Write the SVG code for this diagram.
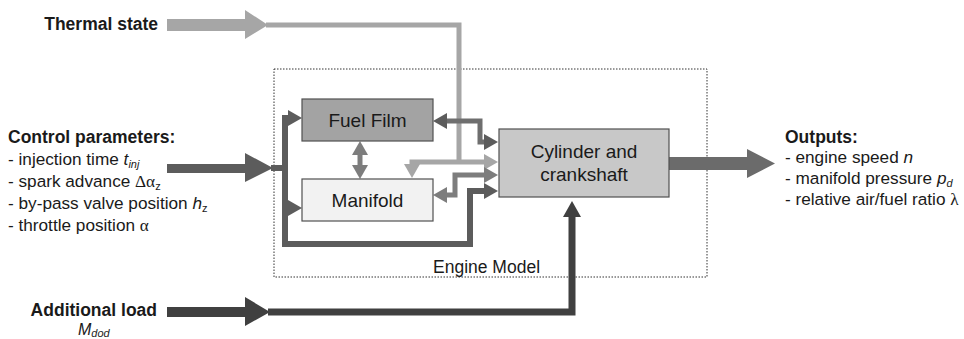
<svg xmlns="http://www.w3.org/2000/svg" width="964" height="339" viewBox="0 0 964 339">
<style>
text{font-family:"Liberation Sans",Arial,sans-serif;fill:#1a1a1a}
.b{font-weight:bold;font-size:17.5px}
.t{font-size:17.2px}
.n{font-size:19px}
.i{font-style:italic}
.g{font-family:"Liberation Serif","Times New Roman",serif}
.s{font-size:11px}
.box{stroke:#505050;stroke-width:1.2}
.ln{fill:none;stroke-linejoin:miter}
</style>
<defs>
<marker id="mL" markerUnits="userSpaceOnUse" markerWidth="16" markerHeight="16" refX="4" refY="8" orient="auto-start-reverse"><path d="M0,0 L14,8 L0,16 z" fill="#a6a6a6"/></marker>
<marker id="mM" markerUnits="userSpaceOnUse" markerWidth="16" markerHeight="16" refX="4" refY="8" orient="auto-start-reverse"><path d="M0,0 L14,8 L0,16 z" fill="#7d7d7d"/></marker>
<marker id="mD" markerUnits="userSpaceOnUse" markerWidth="16" markerHeight="16" refX="4" refY="8" orient="auto-start-reverse"><path d="M0,0 L14,8 L0,16 z" fill="#5c5c5c"/></marker>
<marker id="mK" markerUnits="userSpaceOnUse" markerWidth="18" markerHeight="18" refX="4" refY="9" orient="auto-start-reverse"><path d="M0,0 L16,9 L0,18 z" fill="#404040"/></marker>
</defs>

<rect id="engine-model" x="274" y="69" width="433" height="208" fill="none" stroke="#333" stroke-width="1" stroke-dasharray="1.5 1.5"/>
<text x="433" y="273" style="font-size:17.5px">Engine Model</text>

<g id="connectors">
  <!-- thermal state -->
  <polygon points="167,19 245,19 245,10 268,25 245,39 245,31 167,31" fill="#a6a6a6"/>
  <polyline class="ln" points="266,25 459,25 459,162" stroke="#a6a6a6" stroke-width="5"/>
  <polyline class="ln" points="488,162 412,162 412,168" stroke="#a6a6a6" stroke-width="5" marker-start="url(#mL)" marker-end="url(#mL)"/>
  <!-- control parameters -->
  <polygon points="167,164 245,164 245,153 273,168 245,182 245,173 167,173" fill="#5c5c5c"/>
  <polyline class="ln" points="271,168 285,168" stroke="#5c5c5c" stroke-width="6"/>
  <polyline class="ln" points="292,118 285,118 285,244 470,244 470,191 488,191" stroke="#5c5c5c" stroke-width="6" marker-end="url(#mD)"/>
  <polyline class="ln" points="285,118 292,118" stroke="#5c5c5c" stroke-width="6" marker-end="url(#mD)"/>
  <polyline class="ln" points="285,208 292,208" stroke="#5c5c5c" stroke-width="6" marker-end="url(#mD)"/>
  <!-- fuel film <-> cylinder -->
  <polyline class="ln" points="443,121 480,121 480,142 488,142" stroke="#6e6e6e" stroke-width="5" marker-start="url(#mD)" marker-end="url(#mD)"/>
  <!-- manifold <-> cylinder -->
  <polyline class="ln" points="443,195 455,195 455,175 488,175" stroke="#7d7d7d" stroke-width="5" marker-start="url(#mM)" marker-end="url(#mM)"/>
  <!-- fuel film <-> manifold -->
  <polyline class="ln" points="360,151 360,169" stroke="#7d7d7d" stroke-width="5" marker-start="url(#mM)" marker-end="url(#mM)"/>
  <!-- additional load -->
  <polygon points="167,307 245,307 245,297 270,312 245,326 245,317 167,317" fill="#404040"/>
  <polyline class="ln" points="268,312 572,312 572,213" stroke="#404040" stroke-width="7" marker-end="url(#mK)"/>
  <!-- outputs -->
  <polygon points="669,157 747,157 747,149 775,163.5 747,178 747,170 669,170" fill="#6b6b6b"/>
</g>

<g id="fuel-film">
  <rect class="box" x="302" y="99" width="131" height="42" fill="#a3a3a3"/>
  <text class="n" x="367.5" y="127" text-anchor="middle">Fuel Film</text>
</g>
<g id="manifold">
  <rect class="box" x="302" y="179" width="131" height="42" fill="#f2f2f2"/>
  <text class="n" x="367.5" y="207" text-anchor="middle">Manifold</text>
</g>
<g id="cylinder">
  <rect class="box" x="499" y="129" width="170" height="68" fill="#c8c8c8"/>
  <text class="n" x="584" y="158" text-anchor="middle">Cylinder and</text>
  <text class="n" x="584" y="181" text-anchor="middle">crankshaft</text>
</g>

<g id="thermal-state">
  <text class="b" x="158" y="30" text-anchor="end">Thermal state</text>
</g>
<g id="control-parameters">
  <text class="b" x="8" y="143">Control parameters:</text>
  <text class="t" x="8" y="165">- injection time <tspan class="i">t</tspan><tspan class="i s" dy="3">inj</tspan></text>
  <text class="t" x="8" y="187">- spark advance <tspan class="g">Δα</tspan><tspan class="s" dy="3">z</tspan></text>
  <text class="t" x="8" y="209">- by-pass valve position <tspan class="i">h</tspan><tspan class="s" dy="3">z</tspan></text>
  <text class="t" x="8" y="231">- throttle position <tspan class="g">α</tspan></text>
</g>
<g id="additional-load">
  <text class="b" x="157" y="316" text-anchor="end">Additional load</text>
  <text class="i" x="78" y="335" style="font-size:16px">M<tspan class="s" dy="2">dod</tspan></text>
</g>
<g id="outputs">
  <text class="b" x="785" y="143">Outputs:</text>
  <text class="t" x="785" y="163">- engine speed <tspan class="i">n</tspan></text>
  <text class="t" x="785" y="184">- manifold pressure <tspan class="i">p</tspan><tspan class="i s" dy="3">d</tspan></text>
  <text class="t" x="785" y="205">- relative air/fuel ratio <tspan class="g">λ</tspan></text>
</g>
</svg>
